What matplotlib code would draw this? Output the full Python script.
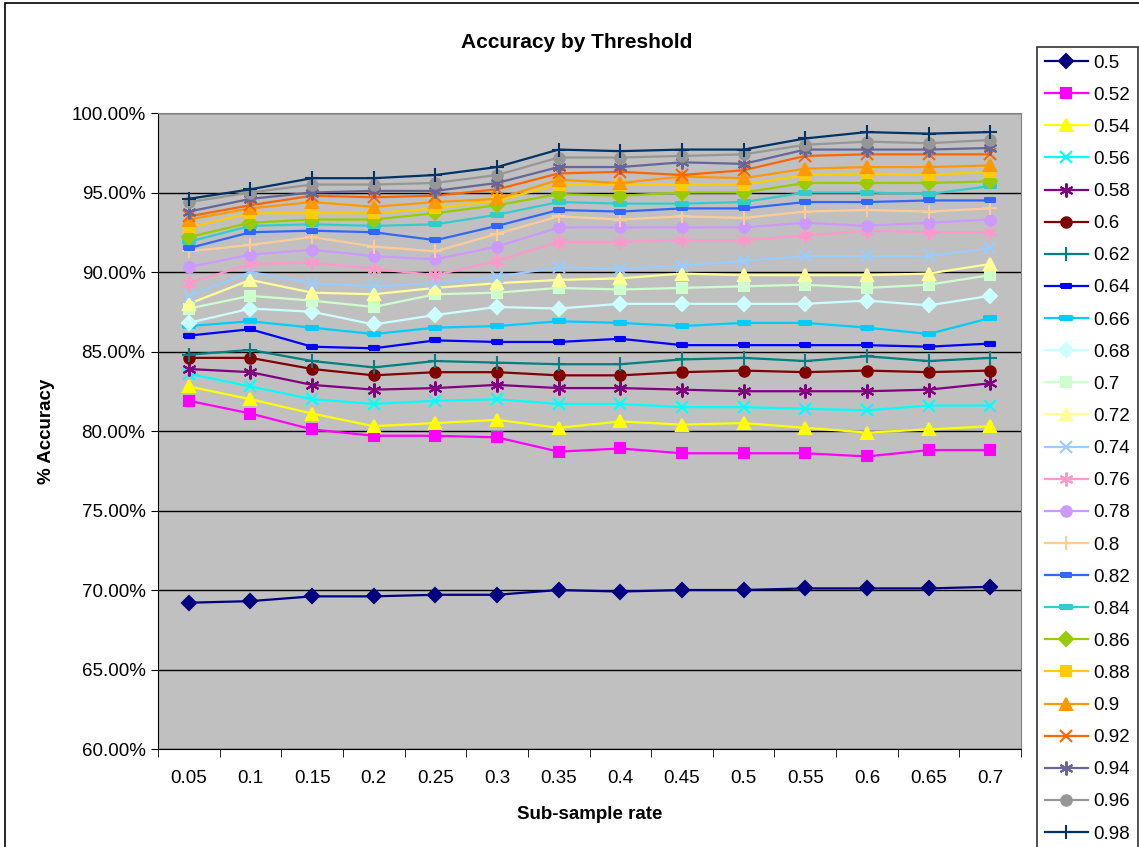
import numpy as np
import matplotlib
matplotlib.use("Agg")
import matplotlib.pyplot as plt
from matplotlib.patches import Rectangle
from matplotlib.ticker import FixedLocator, FuncFormatter

plt.rcParams['font.family'] = ['Liberation Sans', 'DejaVu Sans']

# sub-sample rates (categories)
rates = ['0.05', '0.1', '0.15', '0.2', '0.25', '0.3', '0.35',
         '0.4', '0.45', '0.5', '0.55', '0.6', '0.65', '0.7']

thresholds = ['0.5', '0.52', '0.54', '0.56', '0.58', '0.6', '0.62', '0.64',
              '0.66', '0.68', '0.7', '0.72', '0.74', '0.76', '0.78', '0.8',
              '0.82', '0.84', '0.86', '0.88', '0.9', '0.92', '0.94', '0.96', '0.98']

# % accuracy, one list per threshold
acc_050 = [69.2, 69.3, 69.6, 69.6, 69.7, 69.7, 70.0, 69.9, 70.0, 70.0, 70.1, 70.1, 70.1, 70.2]
acc_052 = [81.9, 81.1, 80.1, 79.7, 79.7, 79.6, 78.7, 78.9, 78.6, 78.6, 78.6, 78.4, 78.8, 78.8]
acc_054 = [82.8, 82.0, 81.1, 80.3, 80.5, 80.7, 80.2, 80.6, 80.4, 80.5, 80.2, 79.9, 80.1, 80.3]
acc_056 = [83.6, 82.8, 82.0, 81.7, 81.9, 82.0, 81.7, 81.7, 81.5, 81.5, 81.4, 81.3, 81.6, 81.6]
acc_058 = [83.9, 83.7, 82.9, 82.6, 82.7, 82.9, 82.7, 82.7, 82.6, 82.5, 82.5, 82.5, 82.6, 83.0]
acc_060 = [84.6, 84.6, 83.9, 83.5, 83.7, 83.7, 83.5, 83.5, 83.7, 83.8, 83.7, 83.8, 83.7, 83.8]
acc_062 = [84.8, 85.1, 84.4, 84.0, 84.4, 84.3, 84.2, 84.2, 84.5, 84.6, 84.4, 84.7, 84.4, 84.6]
acc_064 = [86.0, 86.4, 85.3, 85.2, 85.7, 85.6, 85.6, 85.8, 85.4, 85.4, 85.4, 85.4, 85.3, 85.5]
acc_066 = [86.6, 86.9, 86.5, 86.1, 86.5, 86.6, 86.9, 86.8, 86.6, 86.8, 86.8, 86.5, 86.1, 87.1]
acc_068 = [86.8, 87.7, 87.5, 86.7, 87.3, 87.8, 87.7, 88.0, 88.0, 88.0, 88.0, 88.2, 87.9, 88.5]
acc_070 = [87.7, 88.5, 88.2, 87.8, 88.6, 88.7, 89.0, 88.9, 89.0, 89.1, 89.2, 89.0, 89.2, 89.8]
acc_072 = [88.0, 89.5, 88.7, 88.6, 89.0, 89.3, 89.5, 89.6, 89.9, 89.8, 89.8, 89.8, 89.9, 90.5]
acc_074 = [88.5, 90.0, 89.3, 89.1, 89.3, 89.7, 90.3, 90.2, 90.4, 90.7, 91.0, 91.0, 91.0, 91.5]
acc_076 = [89.3, 90.5, 90.6, 90.2, 89.8, 90.7, 91.9, 91.9, 92.0, 92.0, 92.3, 92.6, 92.5, 92.5]
acc_078 = [90.3, 91.1, 91.4, 91.0, 90.8, 91.6, 92.8, 92.8, 92.8, 92.8, 93.1, 92.9, 93.1, 93.3]
acc_080 = [91.3, 91.7, 92.2, 91.6, 91.3, 92.4, 93.5, 93.3, 93.5, 93.4, 93.8, 93.9, 93.8, 94.0]
acc_082 = [91.5, 92.5, 92.6, 92.5, 92.0, 92.9, 93.9, 93.8, 94.0, 94.0, 94.4, 94.4, 94.5, 94.5]
acc_084 = [91.9, 92.9, 93.0, 92.9, 93.0, 93.6, 94.4, 94.3, 94.3, 94.4, 95.0, 95.0, 94.9, 95.4]
acc_086 = [92.2, 93.1, 93.3, 93.3, 93.7, 94.2, 94.9, 94.8, 95.0, 95.0, 95.6, 95.6, 95.6, 95.7]
acc_088 = [92.8, 93.7, 93.7, 93.7, 94.0, 94.5, 95.5, 95.5, 95.5, 95.5, 96.1, 96.2, 96.1, 96.3]
acc_090 = [93.3, 94.0, 94.4, 94.1, 94.4, 94.6, 95.8, 95.6, 96.0, 95.9, 96.5, 96.6, 96.6, 96.7]
acc_092 = [93.5, 94.2, 94.8, 94.7, 94.8, 95.2, 96.2, 96.3, 96.1, 96.4, 97.3, 97.4, 97.4, 97.4]
acc_094 = [93.8, 94.6, 95.0, 95.1, 95.1, 95.6, 96.6, 96.6, 96.9, 96.8, 97.7, 97.7, 97.7, 97.8]
acc_096 = [94.4, 95.0, 95.5, 95.5, 95.6, 96.1, 97.2, 97.2, 97.3, 97.4, 98.0, 98.2, 98.1, 98.3]
acc_098 = [94.6, 95.2, 95.9, 95.9, 96.1, 96.6, 97.7, 97.6, 97.7, 97.7, 98.4, 98.8, 98.7, 98.8]

series = [acc_050, acc_052, acc_054, acc_056, acc_058, acc_060, acc_062, acc_064,
          acc_066, acc_068, acc_070, acc_072, acc_074, acc_076, acc_078, acc_080,
          acc_082, acc_084, acc_086, acc_088, acc_090, acc_092, acc_094, acc_096, acc_098]

# old spreadsheet default series palette
colors = ['#000080', '#FF00FF', '#FFFF00', '#00FFFF', '#800080', '#800000', '#008080',
          '#0000FF', '#00CCFF', '#CCFFFF', '#CCFFCC', '#FFFF99', '#99CCFF', '#FF99CC',
          '#CC99FF', '#FFCC99', '#3366FF', '#33CCCC', '#99CC00', '#FFCC00', '#FF9900',
          '#FF6600', '#666699', '#969696', '#003366']

short_dash = [(-1, -0.45), (1, -0.45), (1, 0.45), (-1, 0.45), (-1, -0.45)]
long_dash = [(-1, -0.3), (1, -0.3), (1, 0.3), (-1, 0.3), (-1, -0.3)]
asterisk = (6, 2, 0)
marker_cycle = ['D', 's', '^', 'x', asterisk, 'o', '+', short_dash, long_dash]
size_cycle = [7, 6.5, 8, 8, 10, 7.5, 10, 7, 9]

W, H = 1139, 847
fig = plt.figure(figsize=(W / 100, H / 100), dpi=100)

# outer chart frame
fig.patches.append(Rectangle((5 / W, -0.1), 1.2, 1 - 3 / H + 0.1, transform=fig.transFigure,
                             fill=False, edgecolor='black', linewidth=1.2))

ax = fig.add_axes([158 / W, 1 - 749 / H, (1021 - 158) / W, (749 - 113) / H])
ax.set_facecolor('#C0C0C0')

x = np.arange(len(rates))
for i, (vals, label) in enumerate(zip(series, thresholds)):
    m = marker_cycle[i % len(marker_cycle)]
    ms = size_cycle[i % len(size_cycle)]
    ax.plot(x, vals, color=colors[i], linewidth=1.6, marker=m, markersize=ms,
            markerfacecolor=colors[i], markeredgecolor=colors[i], markeredgewidth=1.5,
            label=label)

ax.set_xlim(-0.5, len(rates) - 0.5)
ax.set_ylim(60, 100)
ax.set_yticks(np.arange(60, 101, 5))
ax.yaxis.set_major_formatter(FuncFormatter(lambda v, p: '%.2f%%' % v))
ax.set_xticks(x)
ax.set_xticklabels(rates)
ax.xaxis.set_minor_locator(FixedLocator(np.arange(-0.5, len(rates), 1)))
ax.tick_params(axis='x', which='major', length=0, pad=15, labelsize=13.5)
ax.tick_params(axis='x', which='minor', length=6, direction='out', color='black')
ax.tick_params(axis='y', length=5, direction='out', pad=4, labelsize=13.5)

ax.set_axisbelow(True)
ax.yaxis.grid(True, color='black', linewidth=1)
for s in ['left', 'bottom']:
    ax.spines[s].set_color('black')
for s in ['top', 'right']:
    ax.spines[s].set_color('#808080')

ax.set_xlabel('Sub-sample rate', fontsize=13.5, fontweight='bold', labelpad=14)
ax.set_ylabel('% Accuracy', fontsize=13.5, fontweight='bold', labelpad=12)
fig.text(577 / W, 1 - 43 / H, 'Accuracy by Threshold', ha='center', va='center',
         fontsize=15, fontweight='bold')

leg = fig.legend(loc='upper left', bbox_to_anchor=(1037 / W, 1 - 47 / H), borderaxespad=0,
                 fontsize=13.5, frameon=True, fancybox=False, edgecolor='black',
                 labelspacing=0.8, handlelength=2.3, handletextpad=0.3, borderpad=0.4)
leg.get_frame().set_linewidth(1.2)

fig.savefig('out.png', dpi=100)
